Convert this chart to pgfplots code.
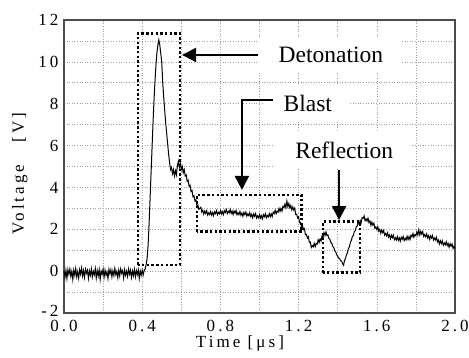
\documentclass[border=0pt]{standalone}
\usepackage{fontspec}
\setmainfont{Liberation Serif}
\newfontfamily\spc[LetterSpace=18]{Liberation Serif}
\usepackage{pgfplots}
\pgfplotsset{compat=1.18}
\usetikzlibrary{arrows.meta}

\pgfplotstableread{
t v
0.000 0.00
0.005 -0.30
0.010 0.05
0.015 -0.35
0.020 0.07
0.025 -0.15
0.030 0.10
0.035 -0.25
0.040 0.00
0.045 -0.40
0.050 0.05
0.055 -0.20
0.060 0.13
0.065 -0.27
0.070 -0.03
0.075 -0.33
0.080 0.07
0.085 -0.15
0.090 0.15
0.095 -0.23
0.100 0.03
0.105 -0.30
0.110 0.09
0.115 -0.10
0.120 0.05
0.125 -0.35
0.130 0.01
0.135 -0.20
0.140 0.11
0.145 -0.27
0.150 -0.01
0.155 -0.17
0.160 0.13
0.165 -0.33
0.170 0.03
0.175 -0.23
0.180 0.07
0.185 -0.40
0.190 0.00
0.195 -0.15
0.200 0.10
0.205 -0.29
0.210 0.05
0.215 -0.20
0.220 -0.03
0.225 -0.35
0.230 0.09
0.235 -0.13
0.240 0.07
0.245 -0.27
0.250 0.01
0.255 -0.21
0.260 0.13
0.265 -0.17
0.270 -0.01
0.275 -0.31
0.280 0.05
0.285 -0.23
0.290 0.11
0.295 -0.10
0.300 0.03
0.305 -0.33
0.310 0.07
0.315 -0.19
0.320 0.00
0.325 -0.25
0.330 0.10
0.335 -0.15
0.340 0.05
0.345 -0.30
0.350 0.01
0.355 -0.21
0.360 0.09
0.365 -0.27
0.370 0.03
0.375 -0.17
0.380 0.07
0.385 -0.35
0.390 0.01
0.395 -0.19
0.400 0.05
0.405 -0.18
0.410 0.03
0.415 0.10
0.420 0.30
0.425 0.60
0.430 1.20
0.435 2.20
0.440 3.40
0.445 4.60
0.450 5.80
0.455 7.00
0.460 8.10
0.465 9.00
0.470 9.80
0.475 10.40
0.480 10.80
0.485 11.05
0.490 10.80
0.495 10.40
0.500 10.00
0.505 9.00
0.510 8.30
0.515 7.70
0.520 7.10
0.525 6.60
0.530 6.10
0.535 5.60
0.540 5.20
0.545 4.85
0.550 4.95
0.555 4.65
0.560 4.85
0.565 4.55
0.570 4.80
0.575 4.60
0.580 5.05
0.585 5.25
0.590 4.95
0.595 5.15
0.600 4.85
0.605 5.00
0.610 4.70
0.615 4.85
0.620 4.55
0.625 4.60
0.630 4.30
0.635 4.35
0.640 4.05
0.645 4.10
0.650 3.80
0.655 3.85
0.660 3.55
0.665 3.60
0.670 3.35
0.675 3.40
0.680 3.10
0.685 3.15
0.690 2.95
0.695 3.00
0.700 3.05
0.705 2.83
0.710 2.91
0.715 2.72
0.720 2.87
0.725 2.76
0.730 2.89
0.735 2.68
0.740 2.79
0.745 2.70
0.750 2.85
0.755 2.68
0.760 2.80
0.765 2.65
0.770 2.84
0.775 2.75
0.780 2.89
0.785 2.70
0.790 2.81
0.795 2.74
0.800 2.90
0.805 2.73
0.810 2.85
0.815 2.70
0.820 2.89
0.825 2.80
0.830 2.94
0.835 2.75
0.840 2.86
0.845 2.79
0.850 2.95
0.855 2.76
0.860 2.87
0.865 2.70
0.870 2.88
0.875 2.77
0.880 2.90
0.885 2.69
0.890 2.79
0.895 2.70
0.900 2.85
0.905 2.67
0.910 2.78
0.915 2.62
0.920 2.80
0.925 2.70
0.930 2.83
0.935 2.63
0.940 2.73
0.945 2.65
0.950 2.80
0.955 2.61
0.960 2.72
0.965 2.55
0.970 2.73
0.975 2.62
0.980 2.75
0.985 2.54
0.990 2.64
0.995 2.55
1.000 2.70
1.005 2.53
1.010 2.65
1.015 2.50
1.020 2.69
1.025 2.60
1.030 2.74
1.035 2.55
1.040 2.66
1.045 2.59
1.050 2.75
1.055 2.60
1.060 2.74
1.065 2.61
1.070 2.82
1.075 2.75
1.080 2.91
1.085 2.74
1.090 2.87
1.095 2.82
1.100 3.00
1.105 2.85
1.110 3.00
1.115 2.87
1.120 3.10
1.125 3.03
1.130 3.20
1.135 3.03
1.140 3.35
1.145 3.08
1.150 3.23
1.155 3.03
1.160 3.14
1.165 2.93
1.170 3.07
1.175 2.92
1.180 3.01
1.185 2.71
1.190 2.72
1.195 2.54
1.200 2.60
1.205 2.32
1.210 2.34
1.215 2.08
1.220 2.17
1.225 1.98
1.230 2.03
1.235 1.74
1.240 1.75
1.245 1.58
1.250 1.65
1.255 1.37
1.260 1.39
1.265 1.13
1.270 1.22
1.275 1.16
1.280 1.33
1.285 1.17
1.290 1.32
1.295 1.29
1.300 1.50
1.305 1.37
1.310 1.54
1.315 1.44
1.320 1.69
1.325 1.65
1.330 1.84
1.335 1.70
1.340 1.87
1.345 1.70
1.350 1.73
1.355 1.56
1.360 1.53
1.365 1.37
1.370 1.32
1.375 1.18
1.380 1.12
1.385 0.98
1.390 0.92
1.395 0.78
1.400 0.72
1.405 0.62
1.410 0.60
1.415 0.49
1.420 0.48
1.425 0.36
1.430 0.28
1.435 0.52
1.440 0.60
1.445 0.79
1.450 0.88
1.455 1.08
1.460 1.17
1.465 1.38
1.470 1.47
1.475 1.65
1.480 1.70
1.485 1.89
1.490 1.93
1.495 2.12
1.500 2.16
1.505 2.36
1.510 2.24
1.515 2.42
1.520 2.31
1.525 2.56
1.530 2.52
1.535 2.64
1.540 2.41
1.545 2.50
1.550 2.39
1.555 2.53
1.560 2.32
1.565 2.40
1.570 2.19
1.575 2.34
1.580 2.20
1.585 2.29
1.590 2.05
1.595 2.11
1.600 1.99
1.605 2.12
1.610 1.91
1.615 2.00
1.620 1.81
1.625 1.97
1.630 1.84
1.635 1.95
1.640 1.72
1.645 1.80
1.650 1.69
1.655 1.83
1.660 1.63
1.665 1.73
1.670 1.55
1.675 1.72
1.680 1.60
1.685 1.72
1.690 1.50
1.695 1.59
1.700 1.49
1.705 1.65
1.710 1.47
1.715 1.59
1.720 1.43
1.725 1.62
1.730 1.52
1.735 1.66
1.740 1.46
1.745 1.57
1.750 1.49
1.755 1.67
1.760 1.51
1.765 1.65
1.770 1.51
1.775 1.72
1.780 1.64
1.785 1.80
1.790 1.62
1.795 1.75
1.800 1.69
1.805 1.88
1.810 1.72
1.815 1.97
1.820 1.73
1.825 1.90
1.830 1.77
1.835 1.89
1.840 1.66
1.845 1.75
1.850 1.64
1.855 1.78
1.860 1.59
1.865 1.69
1.870 1.52
1.875 1.69
1.880 1.58
1.885 1.70
1.890 1.49
1.895 1.58
1.900 1.49
1.905 1.62
1.910 1.40
1.915 1.49
1.920 1.30
1.925 1.45
1.930 1.32
1.935 1.45
1.940 1.24
1.945 1.35
1.950 1.26
1.955 1.40
1.960 1.22
1.965 1.32
1.970 1.14
1.975 1.31
1.980 1.19
1.985 1.30
1.990 1.08
1.995 1.18
2.000 1.09
}\signal

\begin{document}
\begin{tikzpicture}
\useasboundingbox (-64bp,-45bp) rectangle (405bp,313bp);
\begin{axis}[
  at={(0,0)}, anchor=south west,
  scale only axis, width=391bp, height=293bp,
  xmin=0, xmax=2, ymin=-2, ymax=12,
  xtick={0,0.4,0.8,1.2,1.6,2.0},
  xticklabels={0.0,0.4,0.8,1.2,1.6,2.0},
  minor xtick={0.2,0.6,1.0,1.4,1.8},
  ytick={-2,0,2,4,6,8,10,12},
  yticklabels={\raisebox{5bp}{-2},0,2,4,6,8,10,12},
  minor ytick={-1,1,3,5,7,9,11},
  major tick length=0pt, minor tick length=0pt,
  grid=both,
  major grid style={gray!75, line width=0.6bp, dash pattern=on 1bp off 1.6bp},
  minor grid style={gray!75, line width=0.6bp, dash pattern=on 1bp off 1.6bp},
  axis line style={black!70, line width=1.3bp},
  /pgf/number format/assume math mode=true,
  tick label style={font=\spc\fontsize{17bp}{17bp}\selectfont},
  xticklabel style={yshift=-3.5bp},
  yticklabel style={xshift=-2bp},
  xlabel={Time [μs]},
  ylabel={Voltage \ \ [V]},
  xlabel style={font=\spc\fontsize{17bp}{17bp}\selectfont, at={(axis description cs:0.45,-0.1024)}, anchor=center},
  ylabel style={font=\spc\fontsize{17bp}{17bp}\selectfont, at={(axis description cs:-0.113,0.475)}, anchor=center},
  clip=false,
]
\addplot[black, line width=1bp] table[x=t, y=v] {\signal};

\tikzset{bigtxt/.style={font=\fontsize{23.5bp}{24bp}\selectfont, fill=white, inner xsep=18bp, inner ysep=10bp, anchor=west}}
\node[bigtxt] at (axis cs:0.995,10.33) {\hspace*{2bp}Detonation};
\node[bigtxt] at (axis cs:1.02,8.03) {\hspace*{2bp}Blast};
\node[bigtxt] at (axis cs:1.08,5.79) {\hspace*{2bp}Reflection};

\tikzset{box/.style={line width=2.6bp, dash pattern=on 2.4bp off 2.3bp, black}}
\draw[box] (axis cs:0.378,0.3) rectangle (axis cs:0.593,11.36);
\draw[box] (axis cs:0.680,1.88) rectangle (axis cs:1.216,3.64);
\draw[box] (axis cs:1.325,-0.07) rectangle (axis cs:1.514,2.36);

\tikzset{arr/.style={line width=2bp, black, -{Triangle[length=14bp,width=14bp]}}}
\draw[arr] (axis cs:0.992,10.33) -- (axis cs:0.604,10.33);
\draw[arr] (axis cs:1.069,8.18) -- (axis cs:0.910,8.18) -- (axis cs:0.910,3.88);
\draw[arr] (axis cs:1.407,4.83) -- (axis cs:1.407,2.44);
\end{axis}
\end{tikzpicture}
\end{document}
